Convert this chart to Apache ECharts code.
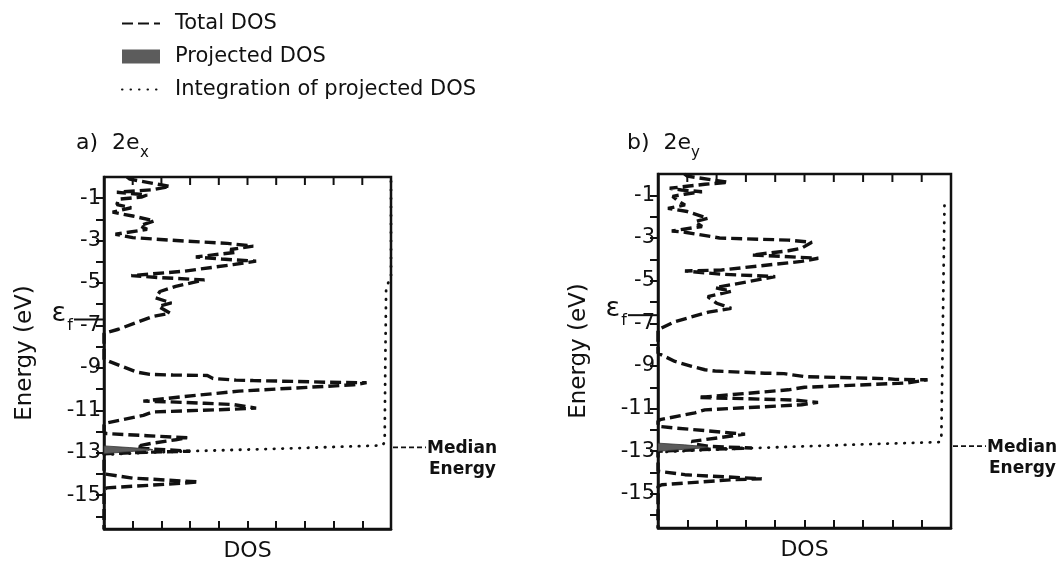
<!DOCTYPE html>
<html>
<head>
<meta charset="utf-8">
<script src="https://cdn.jsdelivr.net/npm/echarts@6/dist/echarts.min.js"></script>
<style>
  html, body { margin: 0; padding: 0; background: #fff; }
  #main { width: 1064px; height: 562px; }
</style>
</head>
<body>
<div id="main"></div>
<script>
// energy axis (eV)
var energyLabels = [-1, -3, -5, -7, -9, -11, -13, -15];
var energyTicks = [-16, -15, -14, -13, -12, -11, -10, -9, -8, -7, -6, -5, -4, -3, -2, -1];
var dosTicks = [1, 2, 3, 4, 5, 6, 7, 8, 9];

// a) 2e_x : [energy, DOS]
var totalDosA = [
  [0.0, 0.8], [-0.1, 0.9], [-0.45, 2.3], [-0.6, 1.7], [-0.72, 0.45], [-0.85, 1.5],
  [-0.95, 1.3], [-1.05, 0.5], [-1.3, 0.45], [-1.45, 0.95], [-1.66, 0.3], [-1.84, 1.0],
  [-2.07, 1.75], [-2.3, 1.25], [-2.47, 1.5], [-2.7, 0.4], [-2.86, 1.0], [-3.02, 2.8],
  [-3.13, 4.3], [-3.26, 5.2], [-3.42, 4.4], [-3.55, 4.6], [-3.77, 3.2], [-3.87, 4.1],
  [-3.97, 5.3], [-4.13, 4.5], [-4.44, 2.8], [-4.65, 0.95], [-4.75, 2.0], [-4.85, 3.5],
  [-5.16, 2.5], [-5.4, 1.95], [-5.7, 1.8], [-5.94, 2.35], [-6.1, 1.9], [-6.42, 2.3],
  [-6.58, 1.7], [-7.18, 0.5], [-7.37, 0], [-8.6, 0], [-8.66, 0.05], [-8.95, 0.66],
  [-9.2, 1.15], [-9.31, 1.6], [-9.34, 2.4], [-9.36, 3.6], [-9.5, 3.8], [-9.58, 4.6],
  [-9.6, 5.2], [-9.66, 7.3], [-9.68, 7.8], [-9.7, 9.15], [-9.8, 8.7], [-10.0, 6.0],
  [-10.1, 4.7], [-10.35, 2.8], [-10.57, 1.37], [-10.6, 2.2], [-10.67, 3.5], [-10.73, 4.5],
  [-10.9, 5.3], [-10.95, 4.5], [-11.08, 1.71], [-11.24, 1.37], [-11.6, 0.1], [-11.7, 0],
  [-12.05, 0], [-12.1, 0.1], [-12.2, 1.5], [-12.3, 2.9], [-12.39, 2.5], [-12.55, 1.7],
  [-12.7, 1.14], [-12.82, 1.6], [-12.93, 3.0], [-12.98, 1.5], [-13.05, 0], [-14.0, 0],
  [-14.08, 0.05], [-14.2, 1.0], [-14.38, 3.3], [-14.47, 2.4], [-14.66, 0.1], [-14.75, 0],
  [-16.6, 0]
];
var projDosA = [
  [-12.68, 0], [-12.76, 0.9], [-12.83, 1.6], [-12.86, 1.7], [-12.9, 1.4], [-12.97, 0.7], [-13.05, 0]
];
var integA = [
  [-13.1, 0], [-13.0, 1.5], [-12.93, 3.0], [-12.8, 6.4], [-12.66, 9.7], [-12.5, 9.78],
  [-9.0, 9.8], [-5.25, 9.83], [-4.9, 9.93], [-4.76, 10.0], [0, 10.0]
];

// b) 2e_y : [energy, DOS]
var totalDosB = [
  [0.0, 0.9], [-0.1, 1.0], [-0.39, 2.4], [-0.48, 1.6], [-0.67, 0.4], [-0.75, 0.8],
  [-0.83, 1.5], [-0.95, 0.9], [-1.05, 0.5], [-1.28, 0.7], [-1.45, 0.92], [-1.61, 0.34],
  [-1.76, 1.0], [-2.08, 1.7], [-2.23, 1.26], [-2.46, 1.5], [-2.67, 0.47], [-2.73, 0.92],
  [-3.0, 2.1], [-3.06, 3.5], [-3.1, 4.45], [-3.2, 5.25], [-3.48, 4.9], [-3.6, 4.45],
  [-3.8, 3.2], [-3.86, 4.2], [-3.95, 5.47], [-4.1, 4.9], [-4.5, 2.17], [-4.55, 0.92],
  [-4.7, 2.17], [-4.81, 4.0], [-5.05, 3.07], [-5.33, 1.95], [-5.5, 2.5], [-5.75, 1.7],
  [-6.06, 2.0], [-6.3, 2.5], [-6.48, 1.72], [-6.92, 0.58], [-7.3, 0], [-8.4, 0],
  [-8.79, 0.58], [-9.02, 1.15], [-9.18, 1.6], [-9.24, 1.95], [-9.34, 3.65], [-9.36, 4.3],
  [-9.5, 5.0], [-9.6, 7.85], [-9.63, 8.1], [-9.65, 9.2], [-9.8, 8.5], [-10.0, 5.0],
  [-10.12, 4.45], [-10.48, 1.37], [-10.52, 2.5], [-10.6, 4.67], [-10.71, 5.46], [-10.82, 4.9],
  [-11.06, 1.6], [-11.2, 1.26], [-11.52, 0.07], [-11.6, 0], [-11.83, 0], [-11.9, 0.5],
  [-12.2, 2.97], [-12.27, 2.6], [-12.54, 1.15], [-12.68, 1.3], [-12.77, 1.72], [-12.85, 3.2],
  [-12.92, 1.5], [-13.0, 0], [-13.94, 0], [-14.1, 0.92], [-14.12, 1.15], [-14.29, 3.54],
  [-14.33, 2.6], [-14.57, 0.13], [-14.65, 0], [-16.6, 0]
];
var projDosB = [
  [-12.62, 0], [-12.7, 0.9], [-12.78, 1.6], [-12.82, 1.72], [-12.86, 1.4], [-12.93, 0.7], [-13.0, 0]
];
var integB = [
  [-13.05, 0], [-12.95, 1.5], [-12.85, 3.3], [-12.7, 6.5], [-12.57, 9.62], [-12.45, 9.67],
  [-1.22, 9.78]
];

var fermiEnergy = [-6.72, -6.62];
var medianEnergy = [-12.75, -12.76];

var FONT = 'DejaVu Sans';
var INK = '#111';
var HIDDEN = 'rgba(0,0,0,0)';
var E_TOP = 0;

var dom = document.getElementById('main');
var myChart = echarts.init(dom, null, {renderer: 'canvas'});

function toXY(rows) {
  return rows.map(function (r) { return [r[1], r[0]]; });
}

function xAxisFor(grid) {
  return {
    type: 'value', gridIndex: grid, position: 'bottom', min: 0, max: 10, splitNumber: 10,
    name: 'DOS', nameLocation: 'middle', nameGap: 11,
    nameTextStyle: {fontFamily: FONT, fontSize: 22, color: INK},
    axisLine: {show: true, onZero: false, lineStyle: {color: INK, width: 2.5}},
    axisTick: {show: true, inside: true, length: 8, lineStyle: {color: INK, width: 2}},
    axisLabel: {show: false},
    splitLine: {show: false}
  };
}

function yAxisFor(grid) {
  return {
    type: 'value', gridIndex: grid, min: -16.6, max: E_TOP,
    name: 'Energy (eV)', nameLocation: 'middle', nameGap: 67,
    nameTextStyle: {fontFamily: FONT, fontSize: 23, color: INK},
    axisLine: {show: true, onZero: false, lineStyle: {color: INK, width: 2.5}},
    axisTick: {show: true, inside: false, length: 8, customValues: energyTicks, lineStyle: {color: INK, width: 2}},
    axisLabel: {show: true, customValues: energyLabels, margin: 3, fontFamily: FONT, fontSize: 21, color: INK},
    splitLine: {show: false}
  };
}

function polygonRenderer(rows) {
  return function (params, api) {
    if (params.dataIndex !== 0) return;
    var pts = rows.map(function (r) { return api.coord([r[1], r[0]]); });
    return {
      type: 'polygon',
      shape: {points: pts},
      style: {fill: '#5c5c5c', stroke: '#333', lineWidth: 0.8}
    };
  };
}

function panelSeries(grid, total, proj, integ) {
  return [
    {
      name: 'Total DOS', type: 'line', xAxisIndex: grid, yAxisIndex: grid,
      data: toXY(total), symbol: 'none', showSymbol: false, z: 3,
      lineStyle: {color: INK, width: 3.4, type: [11, 5]}, itemStyle: {color: INK}
    },
    {
      name: 'Projected DOS', type: 'custom', xAxisIndex: grid, yAxisIndex: grid,
      data: toXY(proj), renderItem: polygonRenderer(proj), z: 4,
      itemStyle: {color: '#5c5c5c'}
    },
    {
      name: 'Integration of projected DOS', type: 'line', xAxisIndex: grid, yAxisIndex: grid,
      data: toXY(integ), symbol: 'none', showSymbol: false, z: 3,
      lineStyle: {color: INK, width: 2.8, type: [0.5, 8], cap: 'round'}, itemStyle: {color: INK}
    }
  ];
}

var option = {
  animation: false,
  textStyle: {fontFamily: FONT, color: INK},
  legend: {
    orient: 'vertical', left: 116, top: 8,
    itemWidth: 38, itemHeight: 14, itemGap: 12,
    selectedMode: false,
    textStyle: {fontFamily: FONT, fontSize: 21, color: INK, padding: [0, 0, 0, 10]},
    data: [
      {name: 'Total DOS', itemStyle: {color: HIDDEN, borderColor: HIDDEN, borderWidth: 0, opacity: 0}},
      {name: 'Projected DOS', icon: 'rect'},
      {name: 'Integration of projected DOS', itemStyle: {color: HIDDEN, borderColor: HIDDEN, borderWidth: 0, opacity: 0}}
    ]
  },
  grid: [
    {left: 104, top: 177, width: 287, height: 352, show: true, borderColor: INK, borderWidth: 2.5, containLabel: false, outerBoundsMode: 'none'},
    {left: 658, top: 174, width: 293, height: 354, show: true, borderColor: INK, borderWidth: 2.5, containLabel: false, outerBoundsMode: 'none'}
  ],
  xAxis: [xAxisFor(0), xAxisFor(1)],
  yAxis: [yAxisFor(0), yAxisFor(1)],
  series: panelSeries(0, totalDosA, projDosA, integA).concat(panelSeries(1, totalDosB, projDosB, integB))
};

myChart.setOption(option);

// annotations placed from the axes' own scales
var titles = [
  {left: 76, main: 'a)  2e', sub: 'x'},
  {left: 627, main: 'b)  2e', sub: 'y'}
];
var graphics = [];
titles.forEach(function (t) {
  graphics.push({type: 'text', x: t.left, y: 143, style: {text: t.main, font: '22px "' + FONT + '"', fill: INK, verticalAlign: 'middle'}});
  graphics.push({type: 'text', x: t.left + 64, y: 153, style: {text: t.sub, font: '15px "' + FONT + '"', fill: INK, verticalAlign: 'middle'}});
});
[0, 1].forEach(function (g) {
  // inward ticks along the top edge of the box
  dosTicks.forEach(function (d) {
    var pt = myChart.convertToPixel({gridIndex: g}, [d, E_TOP]);
    graphics.push({type: 'line', shape: {x1: pt[0], y1: pt[1], x2: pt[0], y2: pt[1] + 8}, style: {stroke: INK, lineWidth: 2}, z: 10});
  });

  var pf = myChart.convertToPixel({gridIndex: g}, [0, fermiEnergy[g]]);
  graphics.push({type: 'line', shape: {x1: pf[0] - 30, y1: pf[1], x2: pf[0], y2: pf[1]}, style: {stroke: INK, lineWidth: 2}});
  graphics.push({type: 'text', x: pf[0] - 38, y: pf[1] - 6, style: {text: '\u03b5', font: '27px "' + FONT + '"', fill: INK, align: 'right', verticalAlign: 'middle'}});
  graphics.push({type: 'text', x: pf[0] - 31, y: pf[1] + 6, style: {text: 'f', font: '16px "' + FONT + '"', fill: INK, align: 'right', verticalAlign: 'middle'}});

  var pm = myChart.convertToPixel({gridIndex: g}, [10, medianEnergy[g]]);
  graphics.push({type: 'line', shape: {x1: pm[0] + 2, y1: pm[1], x2: pm[0] + 35, y2: pm[1]}, style: {stroke: INK, lineWidth: 1.6, lineDash: [5, 3]}});
  graphics.push({type: 'text', x: pm[0] + 36, y: pm[1] + 1, style: {text: 'Median', font: 'bold 17px "' + FONT + '"', fill: INK, verticalAlign: 'middle'}});
  graphics.push({type: 'text', x: pm[0] + 38, y: pm[1] + 22, style: {text: 'Energy', font: 'bold 17px "' + FONT + '"', fill: INK, verticalAlign: 'middle'}});
});
myChart.setOption({graphic: graphics});
</script>
</body>
</html>
